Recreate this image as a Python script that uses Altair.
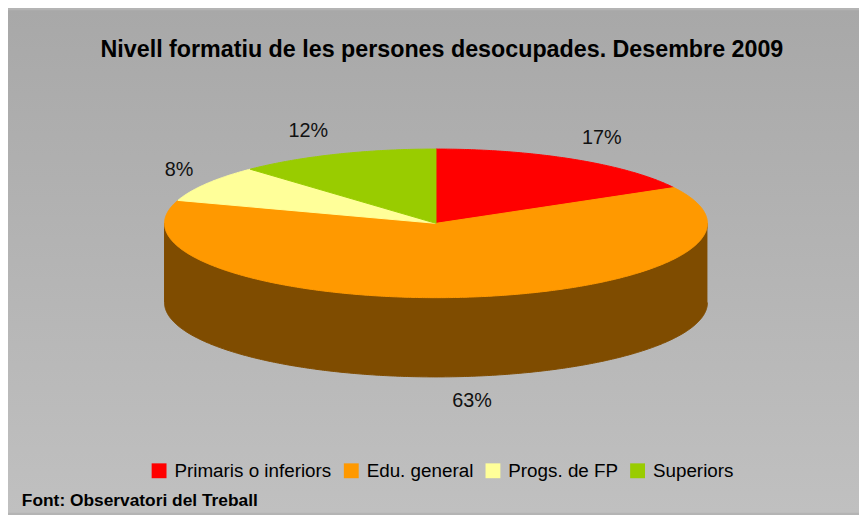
import math
import altair as alt
import pandas as pd

# ---- data ----
categories = ["Primaris o inferiors", "Edu. general", "Progs. de FP", "Superiors"]
values = [17, 63, 8, 12]
labels = ["17%", "63%", "8%", "12%"]
colors = ["#ff0000", "#ff9900", "#ffff99", "#99cc00"]
side_color = "#7f4c00"

title_text = "Nivell formatiu de les persones desocupades. Desembre 2009"
source_text = "Font: Observatori del Treball"

# ---- layout ----
W, H = 859, 507
CX, CY, RX, RY, DEPTH = 440, 223, 274, 75, 80
FONT = "Liberation Sans, Arial, sans-serif"

total = sum(values)
slice_rows, label_rows = [], []
start = 0.0
for cat, v, lab in zip(categories, values, labels):
    s = start / total
    e = (start + v) / total
    n = max(int((e - s) * 720), 4)
    idx = 0
    slice_rows.append(dict(cat=cat, i=idx, x=CX, y=CY)); idx += 1
    for k in range(n + 1):
        phi = 2 * math.pi * (s + (e - s) * k / n)
        slice_rows.append(dict(cat=cat, i=idx, x=CX + RX * math.sin(phi), y=CY - RY * math.cos(phi))); idx += 1
    slice_rows.append(dict(cat=cat, i=idx, x=CX, y=CY))
    m = math.pi * (s + e)
    sx, cy_ = math.sin(m), math.cos(m)
    px = CX + RX * sx
    py = CY - RY * cy_ + (DEPTH if cy_ < 0 else 0)
    dx = 28 * max(-1.0, min(1.0, 4 * sx))
    dy = -25 * cy_
    label_rows.append(dict(label=lab, x=px + dx, y=py + dy))
    start += v

# side wall of the disc (front half), as a closed polygon
side_rows = []
N = 360
for k in range(N + 1):
    phi = 2 * math.pi * (0.25 + 0.5 * k / N)
    side_rows.append(dict(i=k, x=CX + RX * math.sin(phi), y=CY - RY * math.cos(phi)))
for k in range(N + 1):
    phi = 2 * math.pi * (0.75 - 0.5 * k / N)
    side_rows.append(dict(i=N + 1 + k, x=CX + RX * math.sin(phi), y=CY - RY * math.cos(phi) + DEPTH))

slice_df = pd.DataFrame(slice_rows)
label_df = pd.DataFrame(label_rows)
side_df = pd.DataFrame(side_rows)

xs = alt.Scale(domain=[8, 8 + W], nice=False, zero=False)
ys = alt.Scale(domain=[8, 8 + H], nice=False, zero=False, reverse=True)
cscale = alt.Scale(domain=categories, range=colors)

one = pd.DataFrame({"a": [0]})

bg = alt.Chart(one).mark_rect(
    fill=alt.Gradient(
        gradient="linear",
        stops=[alt.GradientStop(color="#a8a8a8", offset=0),
               alt.GradientStop(color="#c0c0c0", offset=1)],
        x1=0, x2=0, y1=0, y2=1,
    )
).encode(x=alt.value(0), x2=alt.value(W), y=alt.value(0), y2=alt.value(H))

side = alt.Chart(side_df).mark_line(fill=side_color, stroke=side_color, strokeWidth=1).encode(
    x=alt.X("x:Q", scale=xs, axis=None),
    y=alt.Y("y:Q", scale=ys, axis=None),
    order=alt.Order("i:Q"),
)

slices = alt.Chart(slice_df).mark_line(strokeWidth=1).encode(
    x=alt.X("x:Q", scale=xs, axis=None),
    y=alt.Y("y:Q", scale=ys, axis=None),
    fill=alt.Fill(
        "cat:N", scale=cscale,
        legend=alt.Legend(
            orient="none", legendX=143, legendY=455, direction="horizontal",
            title=None, symbolType="square", symbolSize=225, symbolStrokeWidth=0,
            labelFont=FONT, labelFontSize=19, labelColor="black", labelLimit=0,
            columnPadding=10, labelOffset=6, padding=0,
        ),
    ),
    stroke=alt.Stroke("cat:N", scale=cscale, legend=None),
    order=alt.Order("i:Q"),
    detail="cat:N",
)

pct = alt.Chart(label_df).mark_text(font=FONT, fontSize=20, color="#111111",
                                    align="center", baseline="middle").encode(
    x=alt.X("x:Q", scale=xs, axis=None),
    y=alt.Y("y:Q", scale=ys, axis=None),
    text="label:N",
)

title = alt.Chart(one).mark_text(font=FONT, fontSize=23.5, fontWeight="bold", color="black",
                                 align="center", baseline="alphabetic").encode(
    x=alt.value(438), y=alt.value(47), text=alt.value(title_text))

footer = alt.Chart(one).mark_text(font=FONT, fontSize=17.5, fontWeight="bold", color="black",
                                  align="left", baseline="alphabetic").encode(
    x=alt.value(14), y=alt.value(500), text=alt.value(source_text))

chart = alt.layer(bg, side, slices, pct, title, footer).properties(
    width=W, height=H, padding=0, autosize="none", background="#b4b4b4"
).configure_view(stroke=None)

chart.save("out.html", embed_options={"renderer": "svg", "actions": False})
